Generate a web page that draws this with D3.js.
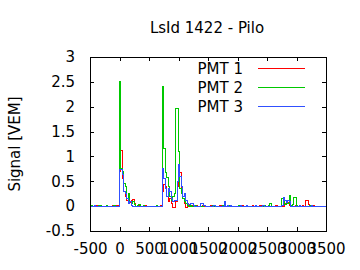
<!DOCTYPE html>
<html>
<head>
<meta charset="utf-8">
<script src="https://cdn.jsdelivr.net/npm/d3@7"></script>
<style>
  body { margin: 0; background: #fff; }
  text { font-family: "DejaVu Sans", sans-serif; }
</style>
</head>
<body>
<div class="visContainer"></div>
<script>
// Trace data, 25 ns bins starting at -500 ns (one row = 500 ns).
const binStart = -500;
const binWidth = 25;

const pmt1 = [
  0, 0, -0.01, 0, 0.01, 0, 0, 0, -0.01, 0, 0, 0.01, 0, 0, 0, 0.02, 0, 0, 0.01, 0,
  0.7, 1.12, 0.55, 0.3, 0.2, 0.12, 0.05, 0.08, 0.12, 0.13, 0.06, 0, 0, 0.01, 0, -0.01, 0.02, 0.01, 0, 0,
  0, 0, -0.01, 0, 0, 0, 0, 0, 0.02, 0.3, 0.43, 0.4, 0.2, 0.1, 0.15, 0.05, -0.02, -0.02, 0.1, 0.4,
  0.5, 0.68, 0.3, 0.15, 0.05, -0.02, 0.05, 0.02, 0, 0.01, 0, 0, 0.02, 0, 0, 0, 0.01, 0, 0, 0,
  0, 0, 0.01, 0, 0, -0.01, 0, 0, 0.02, 0, 0, 0, 0, 0.01, 0, 0, -0.01, 0, 0, 0,
  0, 0, 0, 0.01, 0, 0, -0.01, 0, 0, 0, 0.01, 0, 0, 0, 0, 0.01, 0, 0, 0, 0,
  0, 0, 0, 0, 0, 0, 0.01, 0, 0, 0, 0, 0, 0.05, 0.1, 0.08, 0.02, 0, 0, 0, 0.01,
  0, -0.01, 0, 0, 0.01, 0, 0.11, 0.11, 0.03, 0, 0.02, 0.02, 0, 0, 0, 0, 0, 0, 0, 0
];

const pmt2 = [
  0, 0.01, 0, 0, 0, 0, 0.02, 0.02, 0, 0, 0, 0.01, 0, 0, 0, 0, 0.01, 0, 0, 0,
  2.5, 0.75, 0.7, 0.45, 0.4, 0.15, 0.25, 0.1, 0.05, 0.1, 0.03, 0, 0.02, 0.04, 0, 0, 0.01, 0, 0, 0,
  0, 0, 0, 0, 0, 0.02, 0, 0, 0, 2.4, 1.15, 0.67, 0.57, 0.4, 0.2, 0.12, 0.2, 0.25, 1.97, 1.97,
  1.1, 0.35, 0.25, 0.15, 0.1, 0.05, 0.02, 0, 0.01, 0, 0, 0.02, 0, 0, 0, 0, 0, 0.01, 0, 0,
  0, 0, 0, 0.01, 0, 0, 0, 0, 0, 0, 0.01, 0, 0, 0, 0.02, 0, 0, 0, 0, 0,
  0, 0.01, 0, 0, 0, 0, 0, 0, 0, 0, 0, 0, 0, 0, 0, 0, 0, 0, 0.02, 0,
  0, 0.01, 0.05, 0, 0, 0, 0, 0, 0, 0, 0.15, 0.15, 0.03, 0.08, 0.05, 0.22, 0.02, 0.03, 0.17, 0.17,
  0.02, 0, 0, 0, 0, 0, 0, 0, 0, 0.01, 0, 0, 0, 0, 0, 0, 0, 0, 0, 0
];

const pmt3 = [
  0, 0, 0, 0.01, 0, 0, 0, -0.01, 0, 0, 0, 0, 0, 0, 0, 0, 0, 0, 0, 0,
  0.73, 0.73, 0.63, 0.3, 0.25, 0.15, 0.05, 0.1, 0.02, 0, 0, 0, 0, 0, 0, 0, 0, 0, 0, 0,
  0, 0, 0, 0, 0, 0, 0, 0, 0, 0.75, 0.55, 0.35, 0.2, 0.35, 0.3, 0.15, 0.1, 0.12, 0.12, 0.5,
  0.83, 0.6, 0.4, 0.2, 0.25, 0.12, 0.05, 0.03, 0.06, 0.05, 0.02, 0, 0, 0, 0, 0.05, 0.05, 0.02, 0, 0,
  0, 0, 0, 0, 0.01, 0, 0, 0, 0, 0, 0, 0.1, 0, 0.01, 0, 0.02, 0, 0, 0, 0,
  0, 0, 0.02, 0, 0, 0, 0.01, 0, 0, 0, 0, 0, 0.02, 0, 0, 0, 0, 0.01, 0, 0,
  0, 0, 0, 0, 0, 0, 0, 0, 0, 0, 0.02, 0.18, 0.12, 0.08, 0.12, 0.1, 0, 0, 0, 0,
  0, 0, 0.01, 0, 0, 0, 0, 0, 0, 0, 0.01, 0, 0, 0, 0, 0, 0, 0, 0, 0
];

const seriesNames = ['PMT 1', 'PMT 2', 'PMT 3'];
const seriesColors = ['#ff0000', '#00c800', '#3050ff'];
const xTicks = [-500, 0, 500, 1000, 1500, 2000, 2500, 3000, 3500];
const yTicks = [-0.5, 0, 0.5, 1, 1.5, 2, 2.5, 3];

// SVG constants.
const width = 360;
const height = 270;
const plotL = 90, plotR = 326, plotT = 57, plotB = 231;
const fontSize = 15;

const svg = d3.select('.visContainer')
              .append('svg')
              .attr('width', width)
              .attr('height', height);

const x = d3.scaleLinear().domain([-500, 3500]).range([plotL, plotR]);
const y = d3.scaleLinear().domain([-0.5, 3]).range([plotB, plotT]);

// Axes, ticks pointing inwards and mirrored.
const fmt = d => String(d);
const axes = [
  [d3.axisBottom(x).tickValues(xTicks).tickFormat(fmt).tickSizeInner(-4).tickSizeOuter(0).tickPadding(12), `translate(0,${plotB})`],
  [d3.axisTop(x).tickValues(xTicks).tickFormat('').tickSizeInner(-4).tickSizeOuter(0), `translate(0,${plotT})`],
  [d3.axisLeft(y).tickValues(yTicks).tickFormat(fmt).tickSizeInner(-4).tickSizeOuter(0).tickPadding(15), `translate(${plotL},0)`],
  [d3.axisRight(y).tickValues(yTicks).tickFormat('').tickSizeInner(-4).tickSizeOuter(0), `translate(${plotR},0)`]
];
axes.forEach(([ax, tr]) => {
  const g = svg.append('g').attr('transform', tr).call(ax);
  g.select('.domain').remove();
  g.selectAll('line').attr('stroke', '#000').attr('shape-rendering', 'crispEdges');
  g.selectAll('text').attr('font-size', fontSize).attr('font-family', 'DejaVu Sans').attr('fill', '#000');
});

// Traces as histogram steps.
const line = d3.line()
               .x((d, i) => x(binStart + i * binWidth))
               .y(d => y(d))
               .curve(d3.curveStepAfter);
[pmt1, pmt2, pmt3].forEach((s, k) => {
  svg.append('path')
     .datum(s.concat([s[s.length - 1]]))
     .attr('d', line)
     .attr('fill', 'none')
     .attr('stroke', seriesColors[k])
     .attr('stroke-width', 1)
     .attr('shape-rendering', 'crispEdges');
});

// Frame.
svg.append('rect')
   .attr('x', plotL + 0.5)
   .attr('y', plotT + 0.5)
   .attr('width', plotR - plotL)
   .attr('height', plotB - plotT)
   .attr('fill', 'none')
   .attr('stroke', '#000')
   .attr('shape-rendering', 'crispEdges');

// Legend.
seriesNames.forEach((name, k) => {
  const ly = 68.5 + k * 19;
  svg.append('text')
     .attr('x', 243)
     .attr('y', ly + 5.5)
     .attr('text-anchor', 'end')
     .attr('font-size', fontSize)
     .text(name);
  svg.append('line')
     .attr('x1', 258).attr('x2', 305)
     .attr('y1', ly).attr('y2', ly)
     .attr('stroke', seriesColors[k])
     .attr('shape-rendering', 'crispEdges');
});

// Title.
svg.append('text')
   .attr('x', 207)
   .attr('y', 33)
   .attr('text-anchor', 'middle')
   .attr('font-size', fontSize)
   .text('LsId 1422 - Pilo');

// Y axis label.
svg.append('text')
   .attr('transform', `translate(20,${(plotT + plotB) / 2}) rotate(-90)`)
   .attr('text-anchor', 'middle')
   .attr('font-size', fontSize)
   .text('Signal [VEM]');
</script>
</body>
</html>
